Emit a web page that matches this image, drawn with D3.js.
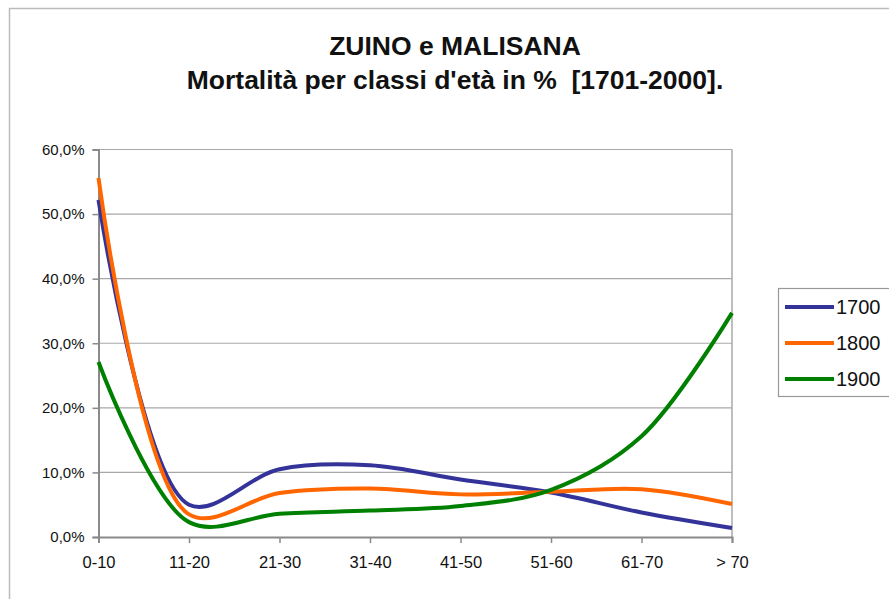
<!DOCTYPE html>
<html><head><meta charset="utf-8">
<script src="https://cdn.jsdelivr.net/npm/d3@7"></script>
<style>body{margin:0;background:#fff;} svg{display:block;}</style>
</head><body>
<svg id="c" width="889" height="599"></svg>
<script>
const categories = ["0-10","11-20","21-30","31-40","41-50","51-60","61-70","> 70"];
const s1700 = [52.2, 5.0, 10.5, 11.1, 8.9, 6.9, 3.8, 1.4];
const s1800 = [55.6, 3.5, 6.8, 7.5, 6.6, 7.0, 7.4, 5.1];
const s1900 = [27.1, 2.3, 3.6, 4.1, 4.8, 7.3, 15.6, 34.7];
const seriesNames = ["1700","1800","1900"];
const seriesColors = ["#333399","#FF6600","#008000"];
const yTicks = [0,10,20,30,40,50,60];
const titleLines = ["ZUINO e MALISANA","Mortalità per classi d'età in %  [1701-2000]."];

const svg = d3.select("#c");
const font = "'Liberation Sans', Arial, sans-serif";
const L = 98.5, R = 732, T = 149.5, B = 537;

svg.append("rect").attr("x",9.5).attr("y",8.5).attr("width",900).attr("height",620)
  .attr("fill","#fff").attr("stroke","#bbbbbb").attr("stroke-width",1.5);

const x = d3.scalePoint().domain(categories).range([L,R]);
const y = d3.scaleLinear().domain([0,60]).range([B,T]);

svg.append("g").selectAll("line").data(yTicks.filter(d=>d>0)).join("line")
  .attr("x1",L).attr("x2",R).attr("y1",d=>y(d)).attr("y2",d=>y(d))
  .attr("stroke","#a8a8a8").attr("stroke-width",1.2);
svg.append("line").attr("x1",R).attr("x2",R).attr("y1",T).attr("y2",B)
  .attr("stroke","#a8a8a8").attr("stroke-width",1.5);

const fmt = d => d.toFixed(1).replace(".",",") + "%";
const yAxis = svg.append("g").attr("transform",`translate(${L},0)`)
  .call(d3.axisLeft(y).tickValues(yTicks).tickFormat(fmt).tickSize(6).tickPadding(8));
const xAxis = svg.append("g").attr("transform",`translate(0,${B})`)
  .call(d3.axisBottom(x).tickSize(6).tickPadding(13));
[yAxis,xAxis].forEach(g=>{
  g.select(".domain").attr("stroke","#8a8a8a").attr("stroke-width",2);
  g.selectAll(".tick line").attr("stroke","#8a8a8a").attr("stroke-width",1.5);
  g.selectAll("text").attr("font-family",font).attr("fill","#111");
});
yAxis.selectAll("text").attr("font-size",15);
xAxis.selectAll("text").attr("font-size",16.5);

const allSeries = [s1700,s1800,s1900];
const line = d3.line().x((d,i)=>x(categories[i])).y(d=>y(d)).curve(d3.curveCatmullRom.alpha(0.5));
svg.append("g").selectAll("path").data(allSeries).join("path")
  .attr("d",d=>line(d)).attr("fill","none")
  .attr("stroke",(d,i)=>seriesColors[i]).attr("stroke-width",4)
  .attr("stroke-linejoin","round");

svg.append("g").selectAll("text").data(titleLines).join("text")
  .attr("x",455).attr("y",(d,i)=>55+i*34).attr("text-anchor","middle")
  .style("white-space","pre")
  .attr("font-family",font).attr("font-weight","bold").attr("font-size",26.5)
  .attr("fill","#111").text(d=>d);

const lg = svg.append("g");
lg.append("rect").attr("x",778.5).attr("y",288.5).attr("width",140).attr("height",108)
  .attr("fill","#fff").attr("stroke","#999").attr("stroke-width",1.2);
const items = lg.selectAll("g").data(seriesNames).join("g")
  .attr("transform",(d,i)=>`translate(0,${307+i*36})`);
items.append("line").attr("x1",785).attr("x2",834).attr("y1",0).attr("y2",0)
  .attr("stroke",(d,i)=>seriesColors[i]).attr("stroke-width",4);
items.append("text").attr("x",836).attr("y",7).attr("font-family",font)
  .attr("font-size",20).attr("fill","#111").text(d=>d);
</script>
</body></html>
